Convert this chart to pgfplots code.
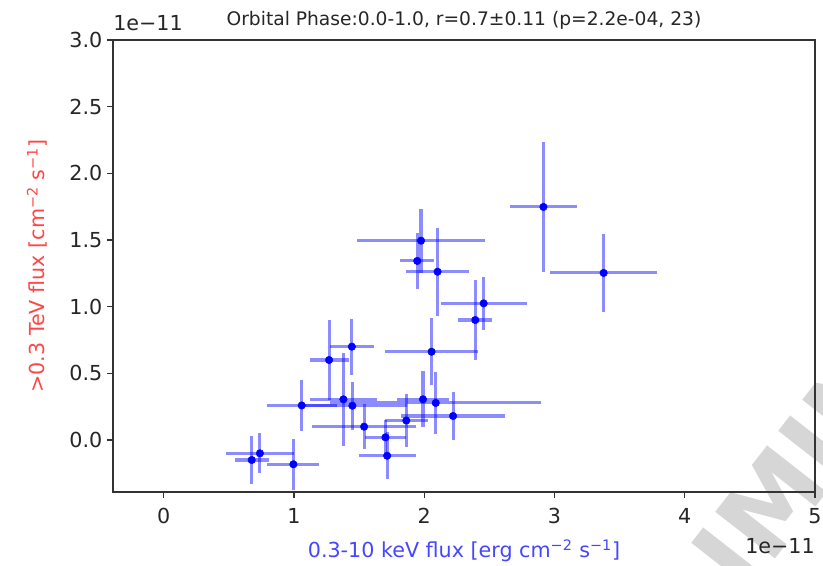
\documentclass[border=0pt]{standalone}
\usepackage{pgfplots}
\pgfplotsset{compat=1.18}
\usepackage{fontspec}
\setmainfont{DejaVu Sans}
\definecolor{xlab}{RGB}{70,70,255}
\definecolor{ylab}{RGB}{255,70,70}
\definecolor{wm}{RGB}{214,214,214}
\pgfplotstableread{
x      y       ex    ey
3.377  1.253   0.41  0.29
2.915  1.748   0.26  0.49
1.975  1.495   0.49  0.24
1.946  1.343   0.13  0.21
2.102  1.262   0.245 0.33
2.456  1.025   0.33  0.20
2.392  0.900   0.13  0.30
2.056  0.662   0.36  0.25
1.444  0.700   0.17  0.21
1.269  0.600   0.15  0.30
1.059  0.259   0.27  0.19
1.379  0.305   0.26  0.35
1.448  0.257   0.42  0.18
1.538  0.100   0.40  0.17
1.702  0.020   0.155 0.13
1.715  -0.118  0.22  0.175
1.862  0.146   0.165 0.20
1.990  0.305   0.20  0.21
2.088  0.278   0.81  0.23
2.221  0.180   0.40  0.18
0.738  -0.100  0.26  0.15
0.675  -0.150  0.13  0.18
0.995  -0.182  0.20  0.19
}\datatable
\begin{document}
\begin{tikzpicture}
\useasboundingbox (-84.75pt,-54.75pt) rectangle (532.5pt,369pt);
\node[rotate=52, text=wm, font=\fontsize{78}{82}\selectfont\bfseries] at (499pt,-1pt) {PRELIMINARY};
\begin{axis}[
  at={(0pt,0pt)}, anchor=south west,
  scale only axis, width=526.5pt, height=339pt,
  xmin=-0.39, xmax=5, ymin=-0.39, ymax=3,
  clip mode=individual,
  axis line style={black!80, line width=0.9pt},
  tick style={black!80, line width=0.9pt},
  tick align=outside, xtick pos=bottom, ytick pos=left,
  major tick length=4.5pt,
  xtick={0,1,2,3,4,5},
  ytick={0,0.5,1,1.5,2,2.5,3},
  ticklabel style={font=\fontsize{15.5}{18}\selectfont, text=black!85},
  /pgf/number format/assume math mode=true,
  yticklabel style={/pgf/number format/.cd, fixed, fixed zerofill, precision=1},
  xticklabel style={yshift=-4pt, /pgf/number format/.cd, fixed, precision=0},
]
\addplot[only marks, mark=*, mark size=2.8pt, color=blue,
  mark options={fill=blue, draw=blue},
  error bars/.cd, x dir=both, x explicit, y dir=both, y explicit,
  error bar style={line width=2.3pt, color=blue, opacity=0.45},
  error mark=none]
  table[x=x, y=y, x error=ex, y error=ey] {\datatable};
\node[anchor=base, font=\fontsize{14}{16}\selectfont, text=black!85] at ([yshift=11pt]rel axis cs:0.5,1) {Orbital Phase:0.0-1.0, r=0.7±0.11 (p=2.2e-04, 23)};
\node[anchor=base west, font=\fontsize{15.5}{18}\selectfont, text=black!85, inner sep=0pt] at ([yshift=7pt]rel axis cs:0,1) {1e−11};
\node[anchor=base east, font=\fontsize{15.5}{18}\selectfont, text=black!85, inner sep=0pt] at ([yshift=-46pt]rel axis cs:1,0) {1e−11};
\node[anchor=center, font=\fontsize{15.5}{18}\selectfont, text=xlab] at ([yshift=-44.25pt]rel axis cs:0.5,0) {0.3-10 keV flux [erg cm\textsuperscript{−2} s\textsuperscript{−1}]};
\node[anchor=center, rotate=90, font=\fontsize{15.5}{18}\selectfont, text=ylab] at ([xshift=-57pt]rel axis cs:0,0.5) {>0.3 TeV flux [cm\textsuperscript{−2} s\textsuperscript{−1}]};
\end{axis}
\end{tikzpicture}
\end{document}
